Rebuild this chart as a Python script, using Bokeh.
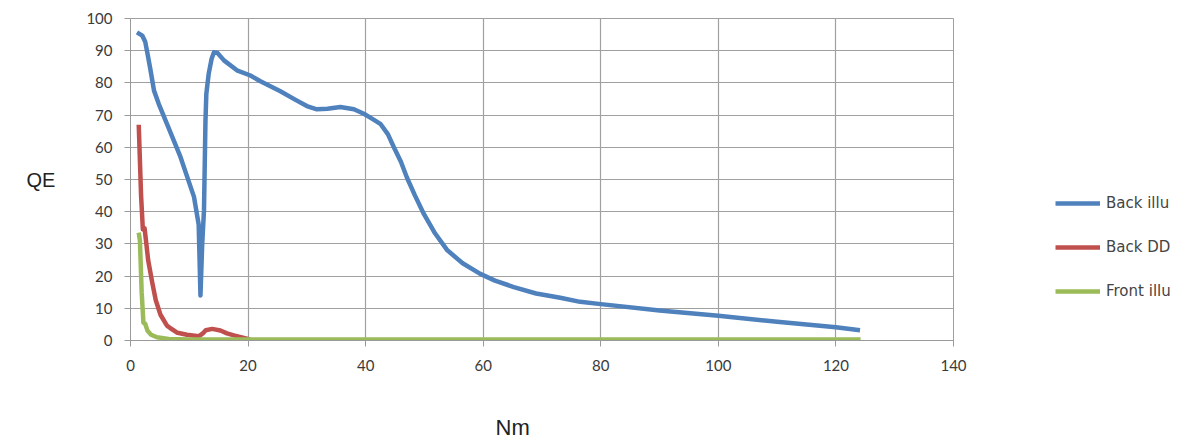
from bokeh.plotting import figure
from bokeh.models import Range1d, SingleIntervalTicker, Legend, LegendItem, Title
from bokeh.embed import file_html
from bokeh.resources import INLINE

# Back illu (blue)
back_illu_x = [1.1, 2.0, 2.5, 2.9, 3.4, 4.0, 4.8, 6.2, 8.5, 10.8, 11.6, 11.9, 12.2, 12.5, 12.75,
               12.9, 13.3, 13.8, 14.2, 14.8, 15.9, 18.1, 20.4, 22.1, 25.5, 28.0, 30.0, 31.7, 33.5,
               35.7, 38.0, 39.7, 41.0, 42.5, 43.8, 44.8, 46.0, 47.0, 48.4, 49.9, 51.8, 53.9, 56.5,
               59.5, 62.0, 65.2, 69.0, 73.1, 76.5, 80.0, 90.0, 100.0, 110.0, 120.0, 124.1]
back_illu_y = [95.7, 94.7, 92.8, 89.0, 84.0, 77.6, 73.5, 67.3, 57.0, 44.6, 36.0, 14.0, 30.0, 40.4, 68.0,
               76.6, 82.8, 87.5, 89.5, 89.3, 87.0, 83.9, 82.3, 80.5, 77.4, 74.8, 72.8, 71.8, 72.0,
               72.5, 71.8, 70.4, 69.0, 67.3, 64.0, 60.0, 55.5, 50.7, 45.0, 39.3, 33.3, 28.0, 24.0,
               20.7, 18.6, 16.6, 14.6, 13.3, 12.0, 11.3, 9.3, 7.7, 5.8, 4.1, 3.2]

# Back DD (red)
back_dd_x = [1.4, 1.8, 2.1, 2.4, 2.7, 3.0, 3.7, 4.3, 5.1, 6.2, 6.8, 8.0, 9.6, 11.6, 12.3, 12.8,
             13.9, 15.3, 16.4, 17.6, 19.8, 20.3]
back_dd_y = [67.0, 45.0, 34.5, 34.8, 30.0, 25.0, 18.0, 12.5, 8.0, 4.6, 3.8, 2.4, 1.8, 1.3, 2.2, 3.2,
             3.6, 3.1, 2.2, 1.6, 0.6, 0.2]

# Front illu (green)
front_illu_x = [1.4, 1.6, 1.9, 2.2, 2.5, 2.9, 3.5, 4.5, 6.5, 10.0, 20.0, 60.0, 100.0, 124.2]
front_illu_y = [33.5, 31.0, 15.0, 5.5, 5.2, 3.0, 1.8, 1.0, 0.5, 0.3, 0.3, 0.3, 0.3, 0.3]

series_names = ["Back illu", "Back DD", "Front illu"]
series_colors = ["#4F81BD", "#C0504D", "#9BBB59"]

p = figure(frame_width=823, frame_height=322,
           min_border_left=130, min_border_right=247, min_border_top=18, min_border_bottom=100,
           x_range=Range1d(0, 140), y_range=Range1d(0, 100),
           output_backend="svg", toolbar_location=None)

r1 = p.line(back_illu_x, back_illu_y, line_color=series_colors[0], line_width=4.5, line_join="round")
r2 = p.line(back_dd_x, back_dd_y, line_color=series_colors[1], line_width=4.5, line_join="round")
r3 = p.line(front_illu_x, front_illu_y, line_color=series_colors[2], line_width=4.5, line_join="round")

p.xaxis.ticker = SingleIntervalTicker(interval=20)
p.yaxis.ticker = SingleIntervalTicker(interval=10)
p.xaxis.minor_tick_line_color = None
p.yaxis.minor_tick_line_color = None
for ax in (p.xaxis, p.yaxis):
    ax.axis_line_color = "#9a9a9a"
    ax.major_tick_line_color = "#9a9a9a"
    ax.major_tick_out = 6
    ax.major_tick_in = 0
    ax.major_label_text_font = "Lato"
    ax.major_label_text_font_size = "15px"
    ax.major_label_text_color = "#3a3a3a"
    ax.axis_label_text_font = "Liberation Sans"
    ax.axis_label_text_font_style = "normal"
    ax.axis_label_text_color = "#222222"
p.xaxis.major_label_standoff = 13
p.yaxis.major_label_standoff = 12
p.yaxis.axis_label = "QE"
p.yaxis.axis_label_text_font_size = "20px"
p.yaxis.axis_label_orientation = "horizontal"
p.yaxis.axis_label_standoff = 28

x_title = Title(text="Nm", align="left", offset=365, standoff=78,
                text_font="Liberation Sans", text_font_size="22px", text_font_style="normal",
                text_color="#222222")
p.add_layout(x_title, "below")

p.xgrid.grid_line_color = "#a0a0a0"
p.ygrid.grid_line_color = "#a0a0a0"
p.xgrid.grid_line_width = 1.2
p.ygrid.grid_line_width = 1.2
p.outline_line_color = "#a0a0a0"

legend = Legend(items=[LegendItem(label=series_names[0], renderers=[r1]),
                       LegendItem(label=series_names[1], renderers=[r2]),
                       LegendItem(label=series_names[2], renderers=[r3])],
                location=(102, 39), padding=0, margin=0, spacing=24,
                glyph_width=45, glyph_height=20, label_height=20, label_standoff=6,
                label_text_font="DejaVu Sans", label_text_font_size="15px", label_text_color="#444444",
                border_line_color=None, background_fill_alpha=0)
p.add_layout(legend, "right")

open("out.html", "w").write(file_html(p, INLINE))
